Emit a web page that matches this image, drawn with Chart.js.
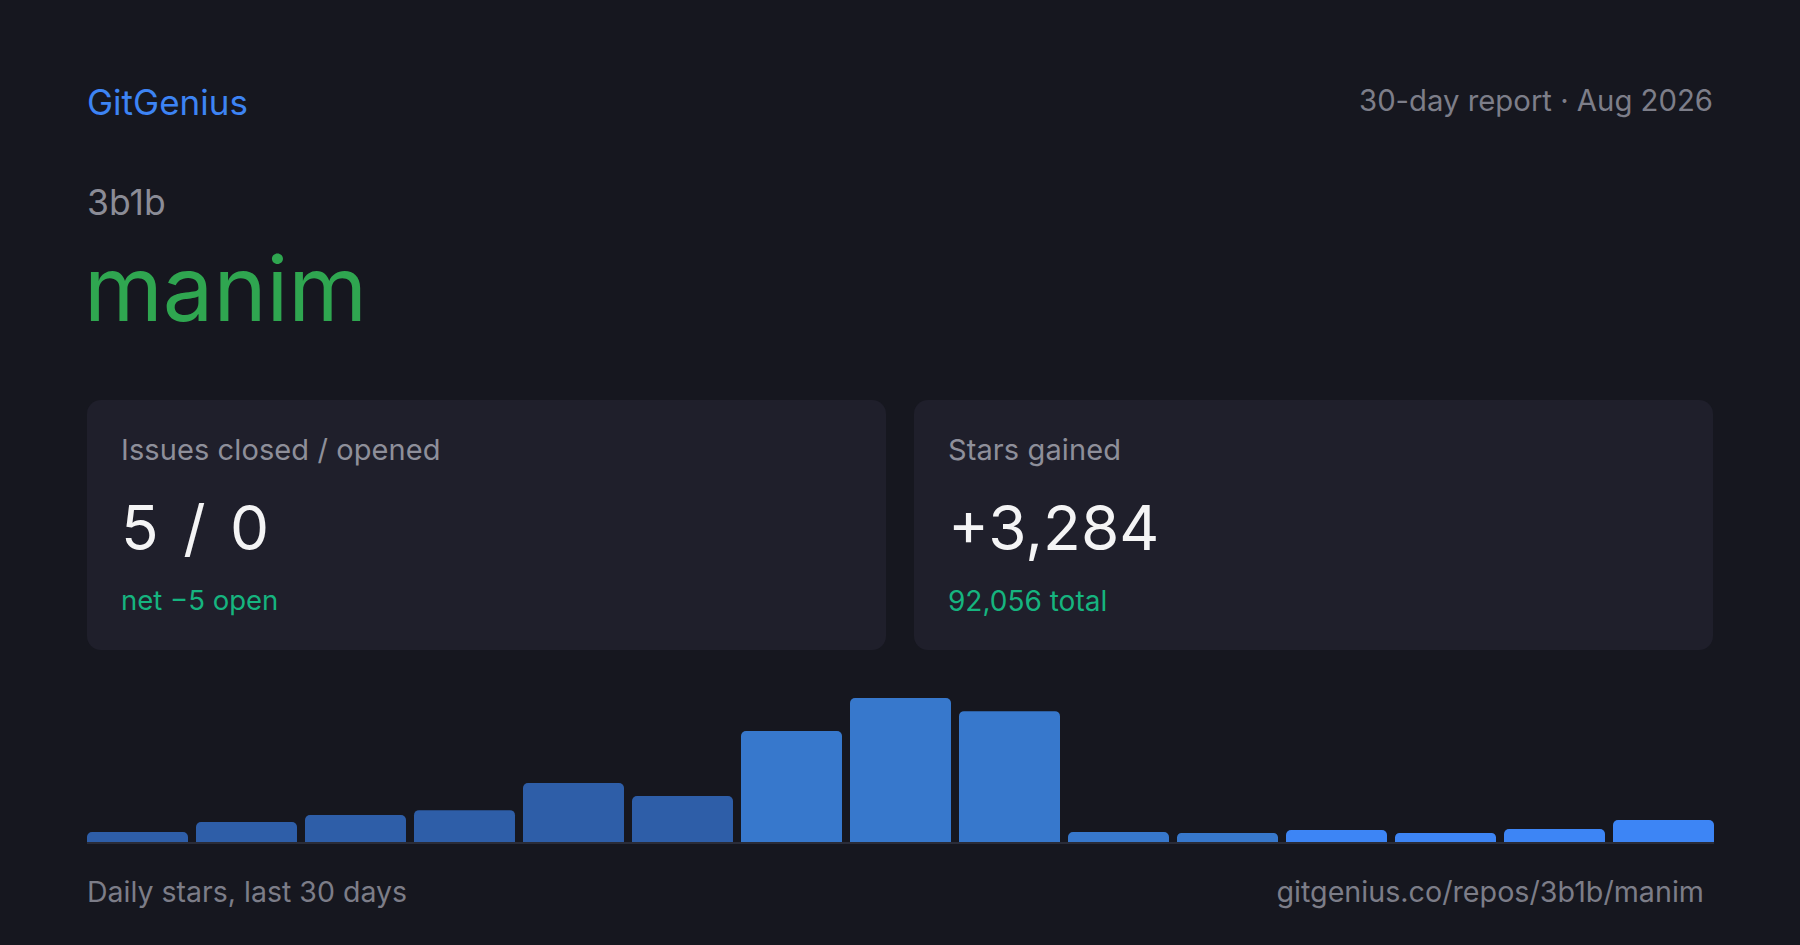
<!DOCTYPE html>
<html>
<head>
<meta charset="utf-8">
<script src="https://cdn.jsdelivr.net/npm/chart.js@4.4.1/dist/chart.umd.min.js"></script>
<style>
  html, body { margin: 0; padding: 0; }
  body { width: 1800px; height: 945px; background: #16171f; position: relative; overflow: hidden;
         font-family: Inter, "Noto Sans", sans-serif; }
  .t { position: absolute; line-height: 1; white-space: nowrap; }
  .card { position: absolute; top: 400px; height: 250px; width: 799px; background: #1f1f2b; border-radius: 14px; }
  #chartBox { position: absolute; left: 83px; top: 688px; width: 1635px; height: 164px; }
</style>
</head>
<body>
<div class="t" style="left:87px; top:85px; font-size:35px; color:#3d84f4;">GitGenius</div>
<div class="t" style="right:87px; top:86px; font-size:29.3px; color:#7d7e89;">30-day report · Aug 2026</div>
<div class="t" style="left:87px; top:185px; font-size:35.5px; color:#8b8c96;">3b1b</div>
<div class="t" style="left:84px; top:244px; font-size:90px; color:#2fa650;">manim</div>

<div class="card" style="left:87px;"></div>
<div class="card" style="left:914px;"></div>
<div class="t" style="left:121px; top:435px; font-size:29px; letter-spacing:0.1px; color:#8e8f9a;">Issues closed / opened</div>
<div class="t" style="left:121px; top:497px; font-size:62px; word-spacing:7px; color:#f4f4f5;">5 / 0</div>
<div class="t" style="left:121px; top:587px; font-size:27.5px; color:#16b47f;">net −5 open</div>
<div class="t" style="left:948px; top:435px; font-size:29px; letter-spacing:0.1px; color:#8e8f9a;">Stars gained</div>
<div class="t" style="left:948px; top:497px; font-size:62px; color:#f4f4f5;">+3,284</div>
<div class="t" style="left:948px; top:587px; font-size:28px; color:#16b47f;">92,056 total</div>

<div id="chartBox"><canvas id="starsChart"></canvas></div>

<div class="t" style="left:87px; top:878px; font-size:28.5px; color:#7c7d88;">Daily stars, last 30 days</div>
<div class="t" style="right:96px; top:878px; font-size:28.7px; color:#7c7d88;">gitgenius.co/repos/3b1b/manim</div>

<script>
// 15 buckets of 2 days each, stars gained per bucket
const buckets = ['1', '2', '3', '4', '5', '6', '7', '8', '9', '10', '11', '12', '13', '14', '15'];
const stars = [50, 100, 135, 160, 296, 231, 557, 723, 657, 50, 45, 60, 45, 65, 110];

// bar shades, older buckets darker
const barColors = [
    '#2e5ea8', '#2e5ea8', '#2e5ea8', '#2e5ea8', '#2e5ea8', '#2e5ea8',
    '#3778cc', '#3778cc', '#3778cc', '#3778cc', '#3778cc',
    '#3d85f5', '#3d85f5', '#3d85f5', '#3d85f5'
];

// thin baseline under the bars, from first bar edge to last bar edge
const baseline = {
    id: 'baseline',
    afterDatasetsDraw(chart) {
        const bars = chart.getDatasetMeta(0).data;
        const first = bars[0], last = bars[bars.length - 1];
        const x0 = first.x - first.width / 2;
        const x1 = last.x + last.width / 2;
        const c = chart.ctx;
        c.save();
        c.fillStyle = '#2a2c38';
        c.fillRect(x0, chart.chartArea.bottom, x1 - x0, 2);
        c.restore();
    }
};

const ctx = document.getElementById('starsChart').getContext('2d');
const starsChart = new Chart(ctx, {
    type: 'bar',
    data: {
        labels: buckets,
        datasets: [{
            label: 'Stars',
            data: stars,
            backgroundColor: barColors,
            borderRadius: 5,
            borderSkipped: 'start',
            categoryPercentage: 1,
            barPercentage: 0.9266
        }]
    },
    options: {
        responsive: true,
        maintainAspectRatio: false,
        animation: false,
        layout: { padding: { top: 10, bottom: 10, left: 0, right: 0 } },
        plugins: {
            legend: { display: false },
            tooltip: { enabled: false }
        },
        scales: {
            x: { display: false },
            y: {
                display: false,
                min: 0,
                max: Math.max(...stars)
            }
        }
    },
    plugins: [baseline]
});
</script>
</body>
</html>
